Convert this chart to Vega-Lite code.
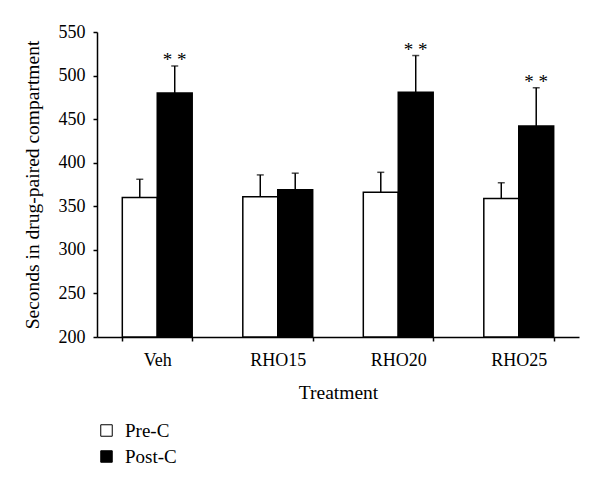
{
  "$schema": "https://vega.github.io/schema/vega-lite/v6.json",
  "width": 482,
  "height": 305,
  "autosize": {"type": "none"},
  "padding": {"left": 97, "top": 32, "right": 21, "bottom": 152},
  "background": "white",
  "config": {
    "font": "Liberation Serif",
    "view": {"stroke": null},
    "axis": {
      "domainColor": "black",
      "domainWidth": 1.5,
      "tickColor": "black",
      "tickWidth": 1.5,
      "tickSize": 4,
      "labelFont": "Liberation Serif",
      "labelFontSize": 18,
      "labelColor": "black",
      "titleFont": "Liberation Serif",
      "titleFontSize": 19.5,
      "titleFontWeight": "normal",
      "titleColor": "black",
      "grid": false
    }
  },
  "data": {
    "values": [
      {"treatment": "Veh", "group": "Pre-C", "value": 360, "err": 381, "sig": ""},
      {"treatment": "Veh", "group": "Post-C", "value": 480, "err": 511, "sig": "* *"},
      {"treatment": "RHO15", "group": "Pre-C", "value": 361, "err": 386, "sig": ""},
      {"treatment": "RHO15", "group": "Post-C", "value": 369, "err": 388, "sig": ""},
      {"treatment": "RHO20", "group": "Pre-C", "value": 366, "err": 389, "sig": ""},
      {"treatment": "RHO20", "group": "Post-C", "value": 481, "err": 523, "sig": "* *"},
      {"treatment": "RHO25", "group": "Pre-C", "value": 359, "err": 377, "sig": ""},
      {"treatment": "RHO25", "group": "Post-C", "value": 442, "err": 486, "sig": "* *"}
    ]
  },
  "encoding": {
    "x": {
      "field": "treatment",
      "type": "nominal",
      "sort": ["Veh", "RHO15", "RHO20", "RHO25"],
      "scale": {"paddingInner": 0.42, "paddingOuter": 0.21},
      "axis": {"labelAngle": 0, "tickBand": "extent", "labelPadding": 10, "title": "Treatment", "titlePadding": 14}
    },
    "xOffset": {
      "field": "group",
      "type": "nominal",
      "sort": ["Pre-C", "Post-C"],
      "scale": {"paddingInner": 0, "paddingOuter": 0}
    }
  },
  "layer": [
    {
      "mark": {"type": "rule", "color": "black", "strokeWidth": 1.5},
      "encoding": {
        "y": {"field": "value", "type": "quantitative"},
        "y2": {"field": "err"}
      }
    },
    {
      "mark": {"type": "tick", "color": "black", "size": 7, "thickness": 1.5, "orient": "horizontal"},
      "encoding": {
        "y": {"field": "err", "type": "quantitative"}
      }
    },
    {
      "mark": {"type": "bar", "stroke": "black", "strokeWidth": 1.5},
      "encoding": {
        "y": {
          "field": "value",
          "type": "quantitative",
          "scale": {"domain": [200, 550], "zero": false},
          "axis": {"values": [200, 250, 300, 350, 400, 450, 500, 550], "labelPadding": 8, "title": "Seconds in drug-paired compartment", "titlePadding": 16}
        },
        "y2": {"datum": 200},
        "color": {
          "field": "group",
          "type": "nominal",
          "sort": ["Pre-C", "Post-C"],
          "scale": {"domain": ["Pre-C", "Post-C"], "range": ["white", "black"]},
          "legend": {
            "title": null,
            "orient": "none",
            "legendX": 0,
            "legendY": 389,
            "padding": 0,
            "symbolType": "square",
            "symbolSize": 132,
            "symbolStrokeColor": "black",
            "symbolStrokeWidth": 1,
            "labelFontSize": 19,
            "labelFont": "Liberation Serif",
            "labelColor": "black",
            "labelOffset": 9,
            "rowPadding": 6
          }
        }
      }
    },
    {
      "transform": [{"filter": "datum.sig != ''"}],
      "mark": {"type": "text", "fontSize": 19, "color": "black", "baseline": "alphabetic", "dy": 0},
      "encoding": {
        "y": {"field": "err", "type": "quantitative"},
        "text": {"field": "sig"}
      }
    }
  ]
}
